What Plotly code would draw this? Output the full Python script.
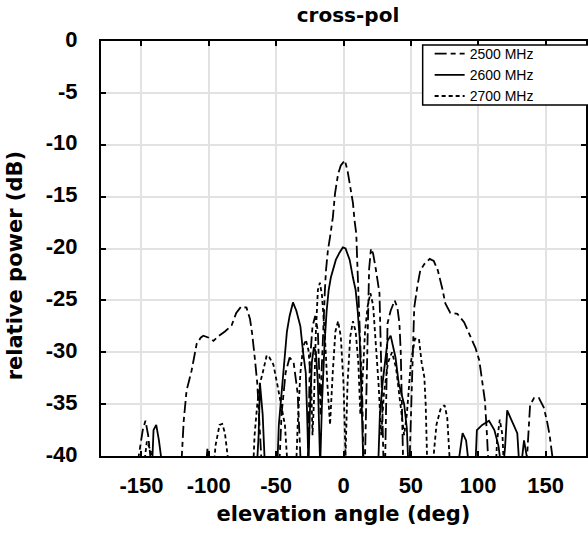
import plotly.graph_objects as go

# ---------------- data ----------------
angle_2500 = [-180, -156, -152, -149, -147, -145, -143, -140,
              -124, -120, -118.6, -116.5, -112.8, -110.5, -109, -106, -104, -100, -96.5, -92.4,
              -88, -83, -79.6, -76, -72, -69.4, -67.8, -65.8, -64, -62.5, -61, -59,
              -49, -46, -43, -40, -37, -34, -32, -30,
              -27, -25, -23, -21, -19, -17.8, -17, -16.3, -15.2, -14.5, -13.8, -13, -11.6, -10,
              -7.9, -6.3, -4, -2, 0, 1, 3, 5.5, 7, 8.2, 9.5, 10, 10.5, 11.3, 12, 13, 14, 15,
              15.5, 16, 17, 18, 19, 20.4, 22, 24, 26.7, 27.5, 28.5, 29.5,
              30.5, 31, 32.7, 35, 38, 40, 41.5, 42.5, 43.5, 44.5,
              48, 50, 51, 52.5, 55, 57, 60, 64, 67, 70, 73.4, 75.6, 79.3, 84.5, 89.5, 93.4,
              98, 100.8, 103, 105, 106.5, 108,
              134, 136, 138.5, 141.5, 145, 148.6, 151, 153, 155, 157, 180]
power_2500 = [-45, -45, -40, -37.5, -36.6, -38, -40.5, -45,
              -45, -40, -36.6, -33.7, -31.8, -30.3, -29.2, -28.6, -28.4, -28.6, -28.9, -28.4,
              -28.0, -27.4, -26.2, -25.6, -25.7, -26.8, -28.2, -30.6, -33, -36.6, -40, -45,
              -45, -36, -32, -30.5, -31, -34, -40, -45,
              -45, -31, -27.5, -26.5, -28, -32, -36, -32, -27.9, -26, -24, -22.1, -20.2, -18.9,
              -17, -14.7, -12.8, -12, -11.6, -11.5, -12.5, -14.7, -15.6, -17.3, -18.6, -20.5, -22.4, -24.7, -27.2, -30.5, -34.7, -42,
              -45, -40, -33, -26.5, -22, -20, -20.5, -22, -24.3, -28.6, -35, -42,
              -45, -40, -27.2, -26, -25, -25.7, -27.2, -30, -35, -42,
              -45, -36, -31, -25.7, -23.5, -22.1, -21.5, -21, -21.2, -22.1, -23.9, -25.3, -26.2, -26.3, -27.1, -28.2,
              -29.6, -30.8, -32.7, -34.7, -38, -42,
              -45, -40, -35.1, -34.4, -34.4, -35.3, -36.6, -38, -40, -45, -45]

angle_2600 = [-180, -143, -141, -139, -137, -135, -133,
              -104, -101, -99,
              -66, -63, -62, -60, -58,
              -50, -48, -46, -44, -42, -40, -37.5, -35, -32, -30, -28, -27, -26,
              -25, -23.5, -22, -20.5, -19, -18, -17.3, -16, -15, -14, -12.5, -11, -9.4, -7, -5.7,
              -3, -0.5, 1.5, 4.6, 7, 9, 10.5, 12, 13, 14, 15,
              25, 27, 29, 30.5, 32.7, 35, 37, 38.6, 41, 45, 47, 48.5,
              84, 86, 88.4, 91, 94, 96,
              97, 99, 103, 106, 108, 112, 115, 118, 120, 121.5, 125, 129, 131, 134, 136, 138, 180]
power_2600 = [-45, -44, -37.5, -37, -38.5, -40.5, -44,
              -44, -39.3, -44,
              -45, -38, -33, -36, -42,
              -44, -37, -34, -31, -28, -26.5, -25.2, -26, -27.5, -30, -32, -36, -41,
              -36, -31, -29.5, -30, -33, -38, -41, -35, -31, -29, -26, -24, -22.8, -21.6, -21.1,
              -20.4, -19.9, -20, -21.1, -22.8, -24, -26, -28.6, -32.7, -37.3, -42,
              -44, -36, -33, -31.1, -28.9, -28.4, -29.5, -30.5, -33, -35, -37.3, -42,
              -44, -40, -37.8, -38.5, -42, -45,
              -44, -37.5, -37, -36.8, -36.6, -37.5, -39, -42, -39, -35.6, -36.6, -37.8, -42, -38.5, -40, -44, -45]

angle_2700 = [-180, -149, -146, -143, -141,
              -98, -95, -92, -90, -88, -86, -84,
              -68, -66, -64, -62, -60, -57, -55, -52, -49, -46, -43.5, -42, -40,
              -36, -34, -32, -30, -28, -26, -24, -23, -22, -20.5, -19, -17.5, -16, -14, -12, -10,
              -8, -6, -4, -2, 0, 1.5, 3, 5, 7, 9, 11, 12.5, 14, 16, 18, 20, 22, 24, 26, 28,
              30, 33, 36, 39, 42, 45, 47, 50, 53, 56, 58, 60, 61, 62, 64,
              67, 69, 72, 75, 77, 78, 80,
              112, 114, 116, 118, 120, 180]
power_2700 = [-45, -42, -38.6, -39.5, -43,
              -44, -39, -37, -36.9, -37.8, -40, -44,
              -44, -38, -35, -33, -32, -30.3, -30.5, -31.2, -33.2, -35.5, -37, -40, -44,
              -44, -37, -32, -29.5, -28.8, -29.8, -33, -38, -35, -28, -24, -23.3, -24.5, -28, -33, -37,
              -32, -28, -27, -28.5, -33, -40, -33, -28.5, -27, -28, -31, -36, -33, -28, -25.5, -24.3, -25.5, -29, -33, -38,
              -34, -31, -30, -31.5, -35, -38, -36, -31, -28.7, -28.7, -31, -32.4, -35, -40, -44,
              -40, -37, -35.5, -35.1, -36.3, -38, -43,
              -44, -38.5, -36.5, -38, -44, -45]

series_names = ["2500 MHz", "2600 MHz", "2700 MHz"]
x_ticks = [-150, -100, -50, 0, 50, 100, 150]
y_ticks = [0, -5, -10, -15, -20, -25, -30, -35, -40]

# ---------------- figure ----------------
fig = go.Figure()
line_w = 1.8
fig.add_trace(go.Scatter(x=angle_2500, y=power_2500, mode="lines", name=series_names[0],
                         line=dict(color="black", width=line_w, dash="12px,4px,5px,4px")))
fig.add_trace(go.Scatter(x=angle_2600, y=power_2600, mode="lines", name=series_names[1],
                         line=dict(color="black", width=line_w)))
fig.add_trace(go.Scatter(x=angle_2700, y=power_2700, mode="lines", name=series_names[2],
                         line=dict(color="black", width=line_w, dash="4px,3px")))

tick_font = dict(family="Liberation Sans, Arial, sans-serif", size=22, color="black", weight="bold")
title_font = dict(family="DejaVu Sans, sans-serif", size=21, color="black", weight="bold")

axis_common = dict(
    showgrid=True, gridcolor="#e2e2e2", gridwidth=1.5,
    showline=True, linecolor="black", linewidth=2, mirror="ticks",
    ticks="inside", ticklen=5, tickwidth=2, tickcolor="black",
    zeroline=False, tickfont=tick_font,
)

fig.update_layout(
    width=588, height=533,
    margin=dict(l=101, r=0, t=41, b=77, pad=0),
    paper_bgcolor="white", plot_bgcolor="white",
    title=dict(text="cross-pol", x=348 / 588, xanchor="center", y=1 - 15 / 533, yanchor="middle",
               font=dict(family="DejaVu Sans, sans-serif", size=20, color="black", weight="bold")),
    xaxis=dict(range=[-180, 180], tickvals=x_ticks, ticktext=[str(v) for v in x_ticks],
               title=dict(text="elevation angle (deg)", font=title_font, standoff=9),
               ticklabelstandoff=9, **axis_common),
    yaxis=dict(range=[-40, 0], tickvals=y_ticks, ticktext=[str(v) for v in y_ticks],
               ticklabelstandoff=17, ticklabelshift=-2, **axis_common),
    annotations=[dict(text="relative power (dB)", textangle=-90, xref="paper", yref="paper",
                      x=-86 / 487, y=1 - (266 - 41) / 415, xanchor="center", yanchor="middle",
                      showarrow=False, font=title_font)],
    showlegend=True,
    legend=dict(x=(431 - 101) / 487, y=1 + 3 / 415, xanchor="left", yanchor="top",
                bgcolor="rgba(0,0,0,0)", borderwidth=0,
                font=dict(family="Liberation Sans, Arial, sans-serif", size=14, color="black"),
                itemwidth=30, tracegroupgap=0),
    shapes=[dict(type="rect", xref="paper", yref="paper",
                 x0=(424 - 101) / 487, x1=1.05, y0=1 - (105 - 41) / 415, y1=1 - (45 - 41) / 415,
                 line=dict(color="black", width=1.5), fillcolor="white", layer="above")],
)

fig.write_html("out.html")
